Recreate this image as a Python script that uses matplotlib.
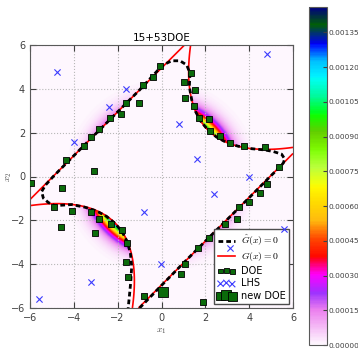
import numpy as np
import matplotlib
matplotlib.use('Agg')
import matplotlib.pyplot as plt
from matplotlib.legend_handler import HandlerPathCollection

plt.rcParams['mathtext.fontset'] = 'cm'
plt.rcParams['font.size'] = 7

# design of experiments (points added by the active learning loop)
doe_x1 = [-0.07, -0.40, -0.86, -1.62, -1.04, -2.35, -1.85, -2.84, -3.22, -3.54, -4.36, -3.07,
          -5.97, -4.53, -4.90, -4.10, -3.23, -2.84, -4.60, -3.05, -2.30, -1.82, -1.59, -1.62,
          -1.54, -0.80,
          4.83, 4.49, 4.01, 3.52, 3.43, 2.88, 2.70, 2.18, 1.68, 1.07, 0.88, 1.91,
          1.33, 1.03, 1.53, 1.09, 1.50, 1.70, 2.17, 2.21, 2.67, 3.13, 3.78, 4.72, 5.38]
doe_x2 = [5.04, 4.55, 4.17, 3.37, 3.34, 2.66, 2.85, 2.17, 1.80, 1.41, 0.75, 0.27,
          -0.28, -0.54, -1.38, -1.56, -1.61, -1.95, -2.29, -2.59, -2.17, -2.44, -3.02, -3.89,
          -4.60, -5.45,
          -0.34, -0.77, -1.15, -1.41, -1.94, -2.17, -2.62, -2.82, -3.25, -3.99, -4.44, -5.71,
          4.74, 4.30, 3.95, 3.60, 3.23, 2.68, 2.62, 2.09, 1.85, 1.54, 1.41, 1.36, 0.45]

# initial latin hypercube sample
lhs_x1 = [-4.78, -1.62, -2.40, -3.99, 0.80, 4.80, 1.60, 4.01, 2.40, 5.59, -0.02, -0.80, -3.22, -5.59, 3.13]
lhs_x2 = [4.78, 3.98, 3.17, 1.59, 2.38, 5.59, 0.78, -0.01, -0.80, -2.41, -4.01, -1.63, -4.80, -5.60, -3.25]

# point proposed at the current iteration
new_x1 = [0.08]
new_x2 = [-5.26]

# surrogate limit state Ghat(x) = 0
ghat_x1 = [-1.00, 0.00, 1.00, 2.00, 3.00, 4.00, 5.00, 5.41,
           5.56, 5.62, 5.48, 5.10, 4.72,
           4.10, 3.50, 2.97, 2.51, 2.12, 1.80, 1.55, 1.38,
           1.27, 1.30, 1.15, 0.84, 0.46, 0.10, -0.07,
           -1.00, -2.00, -3.00, -4.00, -4.94, -5.30,
           -5.47, -5.39, -5.16, -4.86,
           -4.10, -3.50, -2.97, -2.51, -2.12, -1.80, -1.56, -1.42, -1.36, -1.40, -1.46, -1.52]
ghat_x2 = [-6.00, -4.97, -3.95, -2.95, -1.96, -0.97, 0.04, 0.44,
           0.62, 0.80, 1.02, 1.14, 1.21,
           1.27, 1.38, 1.55, 1.80, 2.12, 2.51, 2.97, 3.49,
           4.10, 4.71, 5.09, 5.28, 5.28, 5.10, 4.95,
           3.95, 2.95, 1.95, 0.95, 0.00, -0.40,
           -0.69, -0.99, -1.19, -1.33,
           -1.28, -1.40, -1.57, -1.82, -2.14, -2.52, -2.98, -3.50, -4.10, -4.77, -5.40, -6.00]

# weight of the failure density on each branch (g1, g2, g3, g4)
branch_weight = [0.70, 0.85, 0.55, 0.55]

cbar_ticks = [0.0, 0.00015, 0.0003, 0.00045, 0.0006, 0.00075, 0.0009, 0.00105, 0.0012, 0.00135]


def branches(x1, x2, k=7.0):
    s2 = np.sqrt(2.0)
    g1 = 3 + 0.1 * (x1 - x2) ** 2 - (x1 + x2) / s2
    g2 = 3 + 0.1 * (x1 - x2) ** 2 + (x1 + x2) / s2
    g3 = (x1 - x2) + k / s2
    g4 = (x2 - x1) + k / s2
    return np.stack([g1, g2, g3, g4])


grid = np.linspace(-6, 6, 361)
X1, X2 = np.meshgrid(grid, grid)
gb = branches(X1, X2)
G = gb.min(axis=0)
active = gb.argmin(axis=0)
pdf = np.exp(-(X1 ** 2 + X2 ** 2) / 2) / (2 * np.pi)
field = np.where(G <= 0, pdf * np.array(branch_weight)[active], 0.0)

fig = plt.figure(figsize=(3.58, 3.48), dpi=100)
ax = fig.add_axes([30 / 358, 40 / 348, 263 / 358, 263 / 348])

im = ax.imshow(field, extent=(-6, 6, -6, 6), origin='lower', cmap='gist_ncar_r',
               vmin=0, vmax=0.00146, interpolation='bilinear', aspect='auto', zorder=0)
ax.contour(X1, X2, G, levels=[0], colors='red', linewidths=1.2, zorder=2)
ghat_line, = ax.plot(ghat_x1, ghat_x2, color='black', lw=2.0, dashes=(1.7, 1.1), zorder=3,
                     label=r'$\hat{G}(x)=0$')
g_line, = ax.plot([], [], color='red', lw=1.2, label=r'$G(x)=0$')

doe = ax.scatter(doe_x1, doe_x2, marker='s', s=14, c='#0b6b0b', edgecolors='black',
                 linewidths=0.6, zorder=4, label='DOE')
lhs = ax.scatter(lhs_x1, lhs_x2, marker='x', s=20, c='#3b3bff', linewidths=0.8,
                 zorder=6, label='LHS')
new = ax.scatter(new_x1, new_x2, marker='s', s=45, c='#0b6b0b', edgecolors='black',
                 linewidths=0.6, zorder=4, label='new DOE')

ax.set_xlim(-6, 6)
ax.set_ylim(-6, 6)
ax.set_xticks(range(-6, 7, 2))
ax.set_yticks(range(-6, 7, 2))
ax.tick_params(direction='in', top=True, right=True, length=4, labelsize=7, colors='0.25')
ax.grid(True, color='0.72', linestyle=':', linewidth=0.8)
for sp in ax.spines.values():
    sp.set_color('0.35')
ax.set_title('15+53DOE', fontsize=7.5, pad=3)
ax.set_xlabel('$x_1$', fontsize=7, color='0.3')
ax.set_ylabel('$x_2$', fontsize=7, color='0.3')
ax.xaxis.set_label_coords(0.5, -0.068)
ax.yaxis.set_label_coords(-0.062, 0.5)

leg = ax.legend(handles=[ghat_line, g_line, doe, lhs, new], loc='lower right', fontsize=7,
                scatterpoints=3, scatteryoffsets=[0.375, 0.5, 0.3125], fancybox=False,
                framealpha=1, edgecolor='0.3', borderaxespad=0.4, borderpad=0.35,
                labelspacing=0.25, handlelength=1.8, handletextpad=0.6,
                handler_map={doe: HandlerPathCollection(sizes=[9, 14, 11]),
                             new: HandlerPathCollection(sizes=[35, 50, 42])})
leg.set_zorder(5)

cax = fig.add_axes([309 / 358, 3 / 348, 18 / 358, 338 / 348])
cb = fig.colorbar(im, cax=cax, ticks=cbar_ticks)
cb.ax.set_yticklabels(['%.5f' % t for t in cbar_ticks])
cb.ax.tick_params(direction='in', length=3, labelsize=5.3, pad=0.8, colors='0.25')
cb.outline.set_edgecolor('0.35')

fig.savefig('out.png', dpi=100)
